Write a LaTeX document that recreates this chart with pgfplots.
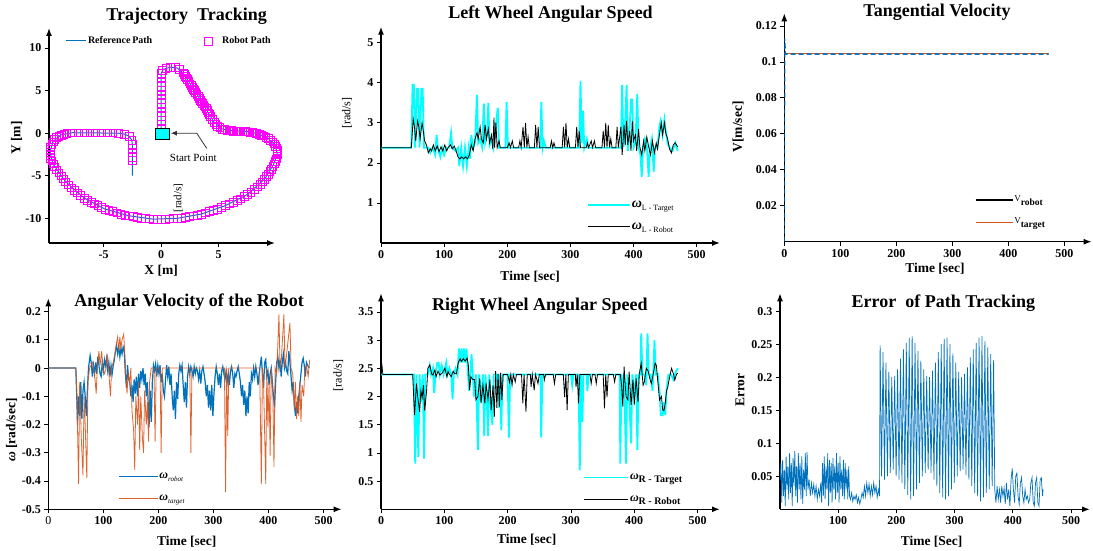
\documentclass[border=0pt]{standalone}
\usepackage{pgfplots}
\pgfplotsset{compat=1.18}
\usepackage{fontspec}
\setmainfont{Liberation Serif}
\usetikzlibrary{arrows.meta}
\definecolor{mblue}{RGB}{0,114,189}
\definecolor{morange}{RGB}{217,83,25}
\definecolor{mcyan}{RGB}{0,255,255}
\definecolor{mmag}{RGB}{255,0,255}
\pgfplotsset{
  panel/.style={
    scale only axis, anchor=south west,
    axis lines=left, enlargelimits=false,
    axis line style={line width=1.4pt, -{Latex[length=8pt,width=6pt]}},
    tick align=outside, major tick length=4pt,
    tick style={black, line width=0.7pt},
    tick label style={font=\fontsize{12}{14}\selectfont\bfseries},
    /pgf/number format/assume math mode=true,
    scaled ticks=false,
    yticklabel style={/pgf/number format/fixed, /pgf/number format/precision=2},
    label style={font=\fontsize{13.5}{15}\selectfont\bfseries},
    every axis title/.style={at={(0.5,1)}, anchor=center, font=\fontsize{18}{20}\selectfont\bfseries},
    legend cell align=left,
  },
  twoleg/.style={
    legend style={draw=none, fill=none, inner sep=0pt, row sep=7pt,
      nodes={inner sep=1pt, text height=9pt, text depth=4pt, anchor=west}},
    legend image code/.code={\draw[##1] (0pt,0pt) -- (#1,0pt);},
  },
}
\begin{document}
\begin{tikzpicture}
\useasboundingbox (0,0) rectangle (1093pt,-551pt);
% ---------------- Panel 1: Trajectory Tracking
\begin{axis}[panel, at={(49pt,-243pt)}, width=226pt, height=215pt,
  xmin=-9.74, xmax=9.9, ymin=-12.9, ymax=12.35, clip=false,
  xtick={-5,0,5}, ytick={-10,-5,0,5,10},
  title={Trajectory\ \ Tracking}, title style={at={(0.609,1.056)}},
  xlabel={X [m]}, xlabel style={at={(0.496,-0.13)}, anchor=center},
  ylabel={Y [m]}, ylabel style={at={(-0.143,0.488)}, anchor=center},
  legend columns=2,
  legend style={at={(0.07,0.94)}, anchor=west, draw=none, fill=none, inner sep=0pt,
    font=\fontsize{10}{12}\selectfont\bfseries,
    /tikz/every even column/.append style={column sep=50pt}},
  legend image code/.code={\draw[mark repeat=2,mark phase=2,#1] plot coordinates {(0pt,0pt) (10pt,0pt) (20pt,0pt)};},
]
\addplot[mblue, line width=1pt] coordinates {
(0,0)(0,3.5)(0,7)(0.2,7.5)(0.8,7.75)(1.4,7.65)(1.9,7.1)(3.1,4.6)(4.1,2.4)(4.6,1.3)(5.3,0.5)(6.1,0.3)(7.7,0.15)(8.5,-0.1)(9.3,-0.6)(9.95,-1.5)(10.1,-2.5)(9.8,-3.6)(9.0,-5.4)(7.5,-7.2)(5.6,-8.5)(3.5,-9.5)(1.4,-10.0)(-0.7,-10.1)(-2.8,-9.7)(-4.9,-8.9)(-6.7,-7.6)(-8.3,-5.7)(-9.4,-3.6)(-9.65,-2.2)(-9.4,-1.0)(-8.7,-0.2)(-7.7,0.05)(-3.7,0.0)(-3.2,-0.1)(-2.8,-0.35)(-2.55,-0.8)(-2.5,-1.3)(-2.5,-5.0)
};
\addlegendentry{Reference\,Path}
\addplot[only marks, mark=square, mark size=3.9pt, mmag, mark options={line width=0.5pt}] coordinates {
(0,0)(0,0.5)(0,1)(0,1.5)(0,2)(0,2.5)(0,3)(0,3.5)(0,4)(0,4.5)(0,5)(0,5.5)(0,6)(0,6.5)(0,7)
(0.1,7.4)(0.4,7.6)(0.8,7.7)(1.2,7.7)(1.6,7.5)(1.9,7.1)
(2.0,6.9)(2.1,6.7)(2.2,6.5)(2.3,6.3)(2.4,6.05)(2.5,5.8)(2.6,5.6)(2.7,5.4)(2.8,5.2)(2.9,5.0)(3.0,4.8)(3.1,4.6)(3.2,4.35)(3.3,4.1)(3.4,3.9)(3.5,3.7)(3.6,3.5)(3.7,3.3)(3.8,3.1)(3.9,2.9)(4.0,2.65)(4.1,2.4)(4.2,2.2)(4.3,2.0)(4.45,1.65)(4.6,1.3)(4.75,1.05)(4.9,0.8)(5.1,0.65)(5.3,0.5)(5.5,0.42)(5.7,0.35)(5.9,0.32)(6.1,0.3)
(6.3,0.27)(6.5,0.25)(6.7,0.22)(6.9,0.2)(7.1,0.2)(7.3,0.2)(7.5,0.17)(7.7,0.15)(7.9,0.1)(8.1,0.05)(8.3,-0.02)
(8.5,-0.1)(8.7,-0.2)(8.9,-0.3)(9.1,-0.45)(9.3,-0.6)(9.5,-0.8)(9.7,-1.0)(9.85,-1.25)(9.95,-1.5)(10.05,-1.75)(10.1,-2.0)(10.1,-2.25)(10.1,-2.5)(10.05,-2.75)(10.0,-3.0)(9.9,-3.3)(9.8,-3.6)(9.7,-3.9)(9.6,-4.2)(9.45,-4.5)(9.3,-4.8)(9.15,-5.1)(9.0,-5.4)
(8.8,-5.7)(8.6,-6.0)(8.35,-6.3)(8.1,-6.6)(7.8,-6.9)(7.5,-7.2)(7.2,-7.45)(6.9,-7.7)(6.6,-7.9)(6.3,-8.1)(5.95,-8.3)(5.6,-8.5)(5.25,-8.7)(4.9,-8.9)(4.55,-9.05)(4.2,-9.2)(3.85,-9.35)(3.5,-9.5)(3.15,-9.6)(2.8,-9.7)(2.45,-9.8)(2.1,-9.9)(1.75,-9.95)(1.4,-10.0)(1.05,-10.03)(0.7,-10.05)(0.35,-10.08)(0,-10.1)(-0.35,-10.1)(-0.7,-10.1)(-1.05,-10.05)(-1.4,-10.0)(-1.75,-9.95)(-2.1,-9.9)(-2.45,-9.8)(-2.8,-9.7)(-3.15,-9.6)(-3.5,-9.5)(-3.85,-9.35)(-4.2,-9.2)(-4.55,-9.05)(-4.9,-8.9)(-5.2,-8.7)(-5.5,-8.5)(-5.8,-8.3)(-6.1,-8.1)(-6.4,-7.85)(-6.7,-7.6)(-7.0,-7.3)(-7.3,-7.0)(-7.55,-6.7)(-7.8,-6.4)(-8.05,-6.05)(-8.3,-5.7)(-8.5,-5.35)(-8.7,-5.0)(-8.9,-4.65)(-9.1,-4.3)(-9.25,-3.95)(-9.4,-3.6)(-9.5,-3.25)(-9.6,-2.9)(-9.65,-2.55)(-9.65,-2.2)(-9.63,-1.9)(-9.6,-1.6)(-9.5,-1.3)(-9.4,-1.0)(-9.25,-0.75)(-9.1,-0.5)(-8.9,-0.35)(-8.7,-0.2)(-8.45,-0.1)(-8.2,0.0)
(-7.7,0.05)(-7.2,0.05)(-6.7,0.05)(-6.2,0.05)(-5.7,0.05)(-5.2,0.05)(-4.7,0.05)(-4.2,0.05)(-3.7,0.0)(-3.2,-0.1)(-2.8,-0.35)(-2.55,-0.8)(-2.5,-1.3)(-2.5,-1.8)(-2.5,-2.3)(-2.5,-2.8)(-2.5,-3.2)
};
\addlegendentry{\hspace{8pt}Robot Path}
\addplot[forget plot, only marks, mark=square*, mark size=5.5pt, mark options={xscale=1.35, fill=mcyan, draw=black, line width=0.6pt}] coordinates {(0.1,-0.1)};
\draw[black!80, line width=0.8pt, -{Latex[length=6pt,width=5pt]}] (axis cs:3.97,-1.8) -- (axis cs:3.1,0) -- (axis cs:0.85,0);
\node[font=\fontsize{11}{12}\selectfont] at (axis cs:2.8,-2.95) {Start Point};
\node[rotate=90, font=\fontsize{11}{12}\selectfont] at (axis cs:1.5,-7.65) {[rad/s]};
\end{axis}
% ---------------- Panel 2: Left Wheel
\begin{axis}[panel, twoleg=42pt, at={(381pt,-243pt)}, width=339pt, height=216.3pt,
  xmin=0, xmax=537, ymin=0, ymax=5.4,
  xtick={0,100,...,500}, ytick={1,2,3,4,5},
  title={Left Wheel Angular\ Speed}, title style={at={(0.5,1.059)}},
  xlabel={Time [sec]}, xlabel style={at={(0.44,-0.157)}, anchor=center},
  ylabel={[rad/s]}, ylabel style={at={(-0.1,0.6)}, anchor=center, font=\fontsize{12}{14}\selectfont},
  legend style={at={(0.607,0.213)}, anchor=north west},
]
\addplot[mcyan, line width=1.8pt] coordinates {
(0,2.38)(48,2.38)(50,3.95)(52,3.95)(54,2.38)(57,3.85)(59,3.85)(61,2.38)(64,3.85)(66,3.85)(68,2.38)(75,2.38)(78,2.25)(82,2.38)(86,2.2)(88,2.7)(90,2.38)(94,2.15)(97,2.38)(100,2.2)(103,2.38)(108,2.38)(111,2.75)(113,2.38)(118,2.3)(122,2.38)(124,1.92)(127,2.38)(130,1.92)(133,2.38)(136,1.92)(139,2.38)(141,2.1)(143,2.7)(146,2.38)(149,2.5)(152,3.7)(154,2.5)(157,2.6)(160,2.4)(163,3.48)(165,2.5)(168,2.7)(170,3.5)(172,2.45)(175,2.6)(178,2.38)(185,3.38)(187,2.38)(197,2.38)(199,3.52)(201,2.38)(252,2.38)(254,3.52)(256,2.38)(258,2.55)(261,2.38)(314,2.38)(316,4.05)(318,2.5)(320,3.3)(322,2.38)(326,2.6)(328,2.38)(380,2.38)(382,3.95)(384,2.4)(386,2.6)(389,3.95)(391,2.3)(393,2.6)(396,3.58)(398,3.58)(400,2.38)(403,2.5)(406,3.72)(408,2.38)(411,2.2)(413,1.65)(415,2.38)(418,2.6)(421,2.45)(424,1.65)(426,2.38)(429,2.6)(432,1.78)(434,2.38)(438,2.38)(441,2.9)(443,3.05)(446,2.7)(449,3.08)(451,2.8)(454,2.5)(457,2.38)(462,2.3)(466,2.5)(470,2.3)
};
\addlegendentry{{\fontsize{14}{14}\selectfont\bfseries\itshape ω}\raisebox{-3pt}{\fontsize{8}{8}\selectfont L - Target}}
\addplot[black, line width=0.8pt] coordinates {
(0,2.38)(48,2.38)(51,3.1)(53,2.9)(55,2.55)(58,3.05)(60,2.9)(62,2.6)(65,3.0)(67,2.8)(69,2.55)(72,2.45)(75,2.25)(78,2.35)(80,2.3)(83,2.45)(86,2.3)(89,2.42)(92,2.28)(95,2.4)(98,2.3)(101,2.45)(104,2.3)(107,2.4)(110,2.45)(113,2.35)(116,2.42)(119,2.3)(122,2.15)(125,2.1)(128,2.15)(131,2.1)(134,2.15)(137,2.1)(140,2.2)(143,2.45)(146,2.3)(149,2.6)(152,2.75)(154,2.6)(157,2.9)(159,2.6)(162,2.5)(165,2.95)(167,2.6)(170,2.85)(172,2.5)(175,2.7)(177,2.35)(179,3.13)(180,2.38)(182,3.0)(184,2.38)(187,2.55)(189,2.38)(200,2.38)(203,2.5)(205,2.38)(208,2.55)(210,2.38)(218,2.38)(220,2.55)(222,2.38)(225,2.9)(227,2.38)(229,3.0)(231,2.38)(233,2.65)(235,2.38)(243,2.38)(245,2.95)(247,2.38)(249,2.9)(251,2.38)(268,2.38)(270,2.55)(272,2.38)(274,2.5)(276,2.38)(287,2.38)(289,2.9)(291,2.38)(293,3.0)(295,2.38)(297,2.6)(299,2.38)(308,2.38)(310,2.9)(312,2.38)(314,2.8)(316,2.38)(325,2.38)(327,2.5)(329,2.38)(333,2.55)(335,2.38)(338,2.55)(340,2.38)(350,2.38)(352,2.8)(354,2.38)(356,3.0)(358,2.38)(360,2.95)(362,2.38)(364,2.6)(366,2.38)(372,2.38)(374,2.9)(376,2.38)(380,2.9)(382,2.2)(385,2.95)(387,2.45)(389,3.05)(391,2.45)(394,2.8)(396,2.3)(398,3.05)(400,2.55)(403,2.7)(405,2.3)(408,2.85)(410,2.4)(413,2.2)(416,2.55)(418,2.3)(421,2.65)(424,2.4)(427,2.2)(430,2.55)(433,2.25)(436,2.5)(438,2.35)(441,2.7)(444,3.0)(446,2.7)(449,3.0)(451,2.75)(454,2.6)(457,2.35)(460,2.25)(463,2.45)(466,2.5)(470,2.4)
};
\addlegendentry{{\fontsize{14}{14}\selectfont\bfseries\itshape ω}\raisebox{-3pt}{\fontsize{8}{8}\selectfont L - Robot}}
\end{axis}
% ---------------- Panel 3: Tangential Velocity
\begin{axis}[panel, twoleg=37pt, at={(784.3pt,-241.7pt)}, width=307.4pt, height=228.4pt,
  xmin=0, xmax=549, ymin=0, ymax=0.127,
  xtick={0,100,...,500}, ytick={0.02,0.04,0.06,0.08,0.1,0.12},
  title={Tangential\ Velocity}, title style={at={(0.497,1.003)}},
  xlabel={Time [sec]}, xlabel style={at={(0.49,-0.12)}, anchor=center},
  ylabel={V[m/sec]}, ylabel style={at={(-0.15,0.503)}, anchor=center},
  legend style={at={(0.62,0.216)}, anchor=north west},
]
\addlegendimage{black, line width=1.2pt}
\addlegendentry{\raisebox{1pt}{\fontsize{9}{9}\selectfont V}\raisebox{-3pt}{\fontsize{9.5}{9.5}\selectfont\bfseries robot}}
\addlegendimage{morange, line width=1pt}
\addlegendentry{\raisebox{1pt}{\fontsize{9}{9}\selectfont V}\raisebox{-3pt}{\fontsize{9.5}{9.5}\selectfont\bfseries target}}
\addplot[forget plot, morange, line width=1.3pt] coordinates {(0,0.1045)(472,0.1045)};
\addplot[forget plot, mblue, line width=1.3pt, dash pattern=on 5pt off 3pt] coordinates {(0,0)(0.8,0.113)(2,0.1043)(472,0.1043)};
\end{axis}
% ---------------- Panel 4: Angular Velocity
\begin{axis}[panel, twoleg=39pt, at={(48.3pt,-509.3pt)}, width=293.4pt, height=211pt,
  xmin=0, xmax=533, ymin=-0.5, ymax=0.247,
  xtick={0,100,...,500}, xticklabels={\mdseries 0,100,200,300,400,500},
  ytick={-0.5,-0.4,-0.3,-0.2,-0.1,0,0.1,0.2},
  title={Angular Velocity of the Robot}, title style={at={(0.48,0.984)}},
  xlabel={Time [sec]}, xlabel style={at={(0.472,-0.154)}, anchor=center},
  ylabel={{\itshape ω} [rad/sec]}, ylabel style={at={(-0.125,0.376)}, anchor=center},
  legend style={at={(0.2376,0.192)}, anchor=north west},
]
\addplot[mblue, line width=1.2pt] coordinates {
(0,0)(50,0)(52,-0.12)(53,-0.2)(55,-0.1)(57,-0.17)(59,-0.05)(61,-0.18)(63,-0.08)(65,-0.05)(67,-0.1)(69,-0.17)(71,-0.08)(73,0)(76,0.045)(78,0.02)(80,-0.03)(82,0.01)(84,-0.02)(86,0.02)(88,-0.02)(90,0.04)(92,0.01)(94,-0.02)(96,-0.03)(98,0.02)(100,-0.01)(102,0.03)(104,0.01)(106,0.035)(108,-0.01)(110,0.02)(112,-0.03)(114,0.01)(116,-0.02)(118,0.01)(120,0.03)(122,0.06)(124,0.08)(126,0.05)(128,0.075)(130,0.04)(132,0.07)(134,0.05)(136,0.075)(138,0.06)(140,-0.02)(142,-0.07)(144,0.01)(146,-0.04)(148,-0.05)(150,-0.1)(152,-0.06)(154,-0.12)(156,-0.04)(158,-0.09)(160,-0.03)(162,-0.1)(164,-0.02)(166,-0.07)(168,-0.01)(170,-0.04)(172,0)(174,-0.06)(176,-0.02)(178,-0.1)(180,-0.05)(182,-0.15)(183,-0.21)(185,-0.08)(187,-0.19)(189,-0.05)(191,0.01)(193,-0.01)(195,0.015)(197,-0.03)(199,0.01)(201,-0.02)(203,0.01)(205,-0.05)(207,-0.02)(209,-0.08)(211,-0.1)(213,-0.04)(215,0.01)(217,-0.03)(219,0.005)(221,-0.06)(223,-0.02)(225,-0.1)(227,-0.15)(229,-0.08)(231,-0.18)(233,-0.05)(235,-0.11)(237,-0.02)(239,0.01)(241,-0.01)(243,0.01)(245,-0.06)(247,-0.12)(249,-0.05)(251,-0.14)(253,-0.03)(255,0.005)(257,-0.02)(259,0.005)(261,-0.01)(263,-0.03)(265,0.005)(267,-0.02)(269,0)(271,-0.01)(273,-0.04)(275,-0.01)(277,-0.055)(279,-0.01)(281,0.005)(283,-0.02)(285,-0.05)(287,-0.1)(289,-0.06)(291,-0.14)(293,-0.08)(295,-0.15)(297,-0.06)(299,-0.17)(301,-0.09)(303,-0.03)(305,0.005)(307,-0.02)(309,-0.06)(311,-0.02)(313,-0.07)(315,-0.01)(317,0.005)(319,-0.02)(321,-0.04)(323,-0.01)(325,-0.05)(327,-0.02)(329,-0.06)(331,-0.01)(333,0.005)(335,-0.02)(337,-0.07)(339,-0.02)(341,-0.03)(343,-0.01)(345,0.005)(347,-0.02)(349,-0.05)(351,-0.1)(353,-0.06)(355,-0.13)(357,-0.08)(359,-0.17)(361,-0.1)(363,-0.16)(365,-0.05)(367,-0.1)(369,-0.02)(371,-0.04)(373,0)(375,-0.03)(377,0.005)(379,-0.02)(381,-0.06)(383,-0.02)(385,0.01)(387,0.04)(389,-0.02)(391,-0.07)(393,0.02)(395,0.03)(397,-0.03)(399,-0.01)(401,-0.06)(403,-0.02)(405,0)(407,-0.05)(409,-0.1)(411,-0.14)(413,-0.05)(415,0.02)(417,0.04)(419,0)(421,0.03)(423,-0.03)(425,0.02)(427,0.05)(429,0)(431,0.02)(433,-0.01)(435,-0.02)(437,0.06)(439,0.02)(441,-0.03)(443,-0.08)(445,-0.05)(447,-0.13)(449,-0.17)(451,-0.12)(453,-0.16)(455,-0.1)(457,-0.06)(459,-0.02)(461,0.02)(463,0.035)(465,0.01)(467,-0.03)(469,0.02)(471,0.01)(474,0.0)
};
\addlegendentry{{\fontsize{12}{12}\selectfont\bfseries\itshape ω}\raisebox{-2.5pt}{\fontsize{7}{7}\selectfont\itshape robot}}
\addplot[morange, line width=0.8pt, opacity=0.9] coordinates {
(0,0)(50,0)(52,-0.1)(55,-0.41)(57,-0.05)(60,-0.25)(63,-0.38)(65,-0.1)(67,-0.2)(70,-0.39)(72,-0.05)(75,0)(80,0.02)(84,-0.02)(87,-0.09)(89,0)(92,0.06)(94,0.01)(97,0.06)(99,0)(102,-0.02)(105,0)(107,0.05)(109,0.01)(113,-0.1)(115,0)(118,0.02)(121,0.05)(124,0.09)(126,0.11)(128,0.06)(130,0.11)(132,0.07)(134,0.1)(137,0.12)(139,0.05)(141,-0.03)(143,-0.09)(145,-0.02)(148,-0.05)(150,0)(152,-0.15)(155,-0.22)(157,-0.36)(159,-0.1)(162,-0.2)(164,-0.05)(166,-0.29)(168,-0.1)(171,-0.25)(173,-0.3)(175,-0.08)(178,-0.2)(180,-0.12)(182,-0.26)(184,-0.05)(187,0)(192,0)(194,-0.26)(196,0)(203,0)(205,-0.3)(207,0)(257,0)(259,-0.3)(261,0)(320,0)(322,-0.44)(324,0)(326,-0.24)(328,0)(384,0)(387,-0.41)(389,0)(391,-0.05)(395,-0.41)(397,0)(399,-0.21)(401,-0.05)(403,-0.31)(405,0)(408,-0.1)(410,-0.35)(412,0)(415,-0.02)(419,0.19)(421,0)(423,0.02)(428,0.19)(430,0)(433,0.05)(439,0.16)(441,0)(444,-0.02)(447,-0.15)(449,-0.05)(451,-0.18)(453,-0.1)(455,-0.17)(457,-0.05)(459,-0.19)(461,-0.06)(464,-0.1)(466,0)(469,0.01)(472,-0.03)(475,0.03)
};
\addlegendentry{{\fontsize{12}{12}\selectfont\bfseries\itshape ω}\raisebox{-2.5pt}{\fontsize{7}{7}\selectfont\itshape target}}
\end{axis}
% ---------------- Panel 5: Right Wheel
\begin{axis}[panel, twoleg=44pt, at={(381pt,-509.3pt)}, width=339pt, height=216pt,
  xmin=0, xmax=535.5, ymin=0, ymax=3.83,
  xtick={0,100,...,500}, ytick={0.5,1,1.5,2,2.5,3,3.5},
  title={Right Wheel Angular\ Speed}, title style={at={(0.469,0.938)}},
  xlabel={Time [sec]}, xlabel style={at={(0.43,-0.142)}, anchor=center},
  ylabel={[rad/s]}, ylabel style={at={(-0.126,0.62)}, anchor=center, font=\fontsize{12}{14}\selectfont},
  legend style={at={(0.596,0.183)}, anchor=north west},
]
\addplot[mcyan, line width=1.8pt] coordinates {
(0,2.39)(52,2.39)(54,0.81)(56,2.39)(59,0.93)(61,2.39)(63,1.9)(66,2.39)(68,0.9)(70,2.39)(74,2.39)(77,2.55)(79,2.39)(82,2.5)(84,2.06)(86,2.39)(89,2.6)(91,2.6)(93,2.39)(96,2.55)(99,2.39)(103,2.6)(105,2.39)(108,2.5)(111,2.39)(113,1.95)(115,2.39)(118,2.5)(121,2.39)(123,2.85)(125,2.6)(127,2.85)(129,2.6)(131,2.85)(133,2.6)(135,2.85)(137,2.5)(139,2.1)(141,2.39)(143,2.75)(145,2.39)(147,2.0)(150,2.39)(153,1.05)(155,2.39)(158,1.9)(161,2.39)(163,1.3)(165,2.39)(167,2.0)(169,1.3)(171,2.39)(174,1.7)(176,1.5)(178,2.39)(183,2.39)(187,1.8)(188,2.39)(190,1.4)(192,2.39)(200,2.39)(202,1.27)(204,2.39)(252,2.39)(253,1.27)(255,2.39)(300,2.39)(302,2.2)(304,2.39)(312,2.39)(314,0.69)(316,2.39)(318,1.55)(320,2.39)(325,2.39)(326,2.1)(328,2.39)(377,2.39)(378,0.81)(380,2.39)(382,2.0)(384,2.39)(387,0.81)(389,2.39)(392,2.0)(395,1.17)(397,2.39)(400,2.0)(403,2.39)(405,1.05)(407,2.39)(410,2.39)(411,3.12)(413,2.39)(416,2.39)(419,2.2)(421,3.12)(423,2.39)(426,2.39)(429,2.1)(432,3.0)(434,2.39)(437,2.4)(440,2.1)(442,1.67)(445,1.67)(447,1.9)(449,1.67)(451,2.1)(454,2.39)(458,2.39)(462,2.3)(466,2.45)(469,2.5)
};
\addlegendentry{{\fontsize{12}{12}\selectfont\bfseries\itshape ω}\raisebox{-3pt}{\fontsize{10}{10}\selectfont\bfseries R - Target}}
\addplot[black, line width=0.8pt] coordinates {
(0,2.39)(1,2.6)(3,2.39)(50,2.39)(53,1.67)(56,2.23)(58,2.0)(61,1.73)(63,2.1)(65,1.98)(67,2.2)(69,1.75)(72,2.1)(74,2.5)(77,2.56)(80,2.4)(82,2.38)(85,2.47)(87,2.35)(90,2.45)(93,2.38)(97,2.42)(101,2.5)(104,2.35)(106,2.44)(109,2.38)(111,2.35)(114,2.45)(116,2.41)(119,2.4)(122,2.6)(125,2.67)(127,2.62)(130,2.67)(133,2.63)(136,2.68)(138,2.55)(140,2.12)(142,2.35)(145,2.3)(148,2.3)(150,1.94)(153,2.0)(156,2.32)(158,1.88)(161,2.2)(164,1.88)(166,2.23)(169,1.95)(172,2.3)(174,1.76)(177,2.2)(179,1.64)(181,2.45)(183,1.8)(185,2.4)(187,1.82)(189,2.42)(191,1.94)(193,2.39)(200,2.39)(203,2.25)(205,2.39)(207,2.2)(209,2.39)(212,2.26)(214,2.39)(222,2.39)(224,1.88)(226,2.39)(229,1.73)(231,2.39)(236,2.39)(237,2.17)(239,2.39)(242,2.11)(244,2.39)(248,2.23)(250,2.39)(257,2.39)(258,2.29)(260,2.39)(272,2.39)(274,2.23)(276,2.39)(288,2.39)(290,1.99)(292,2.39)(294,1.76)(296,2.39)(307,2.39)(308,2.17)(310,2.39)(312,1.88)(314,2.39)(330,2.39)(332,2.23)(334,2.39)(338,2.39)(340,2.23)(342,2.39)(351,2.39)(353,1.79)(355,2.39)(357,1.99)(359,2.39)(367,2.39)(369,2.26)(371,2.39)(378,2.39)(380,2.2)(382,1.82)(384,2.53)(387,2.0)(390,1.94)(392,2.44)(395,1.85)(398,2.3)(400,1.85)(403,2.32)(406,1.9)(408,2.4)(411,2.59)(414,2.2)(416,2.26)(419,2.5)(422,2.45)(425,2.3)(427,2.23)(430,2.4)(433,2.59)(435,2.55)(437,2.3)(440,1.94)(443,2.0)(445,1.76)(447,1.75)(449,1.88)(451,2.1)(453,2.17)(456,2.35)(459,2.5)(462,2.4)(464,2.29)(467,2.4)(469,2.41)
};
\addlegendentry{{\fontsize{12}{12}\selectfont\bfseries\itshape ω}\raisebox{-3pt}{\fontsize{10}{10}\selectfont\bfseries R - Robot}}
\end{axis}
% ---------------- Panel 6: Error
\begin{axis}[panel, at={(780pt,-509.3pt)}, width=310pt, height=216pt,
  xmin=0, xmax=532.6, ymin=0, ymax=0.327,
  xtick={100,200,...,500}, ytick={0.05,0.1,0.15,0.2,0.25,0.3},
  title={Error\ \ of Path Tracking}, title style={at={(0.527,0.954)}},
  xlabel={Time [Sec]}, xlabel style={at={(0.489,-0.15)}, anchor=center},
  ylabel={Error}, ylabel style={at={(-0.129,0.552)}, anchor=center},
]
\addplot[mblue, line width=0.7pt] coordinates {
(0,0.045)(1.5,0.07)(3,0.01)(4.5,0.075)(6,0.02)(7.5,0.06)(9,0.005)(10.5,0.08)(12,0.03)(13.5,0.065)(15,0.015)(16.5,0.085)(18,0.025)(19.5,0.07)(21,0.005)(22.5,0.078)(24,0.035)(25.5,0.088)(27,0.02)(28.5,0.065)(30,0.01)(31.5,0.085)(33,0.03)(34.5,0.07)(36,0.015)(37.5,0.08)(39,0.008)(40.5,0.06)(42,0.03)(43.5,0.085)(45,0.02)(46.5,0.087)(48,0.03)(50,0.045)(52,0.02)(54,0.04)(56,0.025)(58,0.038)(60,0.02)(62,0.035)(64,0.015)(66,0.03)(68,0.02)(70,0.04)(71.5,0.01)(73,0.07)(74.5,0.02)(76,0.08)(77.5,0.015)(79,0.065)(80.5,0.03)(82,0.085)(83.5,0.005)(85,0.075)(86.5,0.025)(88,0.07)(89.5,0.01)(91,0.078)(92.5,0.03)(94,0.065)(95.5,0.015)(97,0.085)(98.5,0.025)(100,0.07)(101.5,0.01)(103,0.08)(104.5,0.03)(106,0.06)(107.5,0.02)(109,0.075)(110.5,0.015)(112,0.07)(113.5,0.03)(115,0.06)(116.5,0.015)(118,0.065)(119.5,0.02)(121,0.015)(123,0.025)(125,0.012)(127,0.02)(129,0.015)(131,0.022)(133,0.01)(135,0.018)(137,0.008)(139,0.015)(141,0.025)(143,0.018)(145,0.035)(147,0.02)(149,0.04)(151,0.025)(153,0.038)(155,0.02)(157,0.035)(159,0.022)(161,0.04)(163,0.025)(165,0.035)(167,0.018)(169,0.03)(171,0.02)
(172,0.248)(174.5,0.05)(177,0.238)(179.5,0.045)(182,0.222)(184.5,0.05)(187,0.208)(189.5,0.055)(192,0.2)(194.5,0.06)(197,0.202)(199.5,0.05)(202,0.212)(204.5,0.045)(207,0.228)(209.5,0.04)(212,0.242)(214.5,0.03)(217,0.252)(219.5,0.022)(222,0.26)(224.5,0.015)(227,0.262)(229.5,0.02)(232,0.252)(234.5,0.03)(237,0.24)(239.5,0.04)(242,0.225)(244.5,0.05)(247,0.212)(249.5,0.055)(252,0.202)(254.5,0.06)(257,0.2)(259.5,0.055)(262,0.21)(264.5,0.045)(267,0.222)(269.5,0.035)(272,0.238)(274.5,0.025)(277,0.25)(279.5,0.018)(282,0.258)(284.5,0.015)(287,0.26)(289.5,0.02)(292,0.25)(294.5,0.03)(297,0.236)(299.5,0.04)(302,0.222)(304.5,0.05)(307,0.208)(309.5,0.058)(312,0.2)(314.5,0.06)(317,0.205)(319.5,0.052)(322,0.215)(324.5,0.045)(327,0.23)(329.5,0.035)(332,0.242)(334.5,0.025)(337,0.252)(339.5,0.02)(342,0.26)(344.5,0.012)(347,0.262)(349.5,0.018)(352,0.255)(354.5,0.025)(357,0.245)(359.5,0.03)(362,0.235)(364.5,0.035)(367,0.226)(369,0.03)
(371,0.01)(373,0.035)(375,0.015)(377,0.03)(379,0.01)(381,0.035)(383,0.02)(385,0.032)(387,0.008)(389,0.04)(391,0.015)(393,0.03)(395,0.005)(397,0.045)(399,0.062)(401,0.03)(403,0.01)(405,0.05)(407,0.055)(409,0.02)(411,0.008)(413,0.04)(415,0.048)(417,0.02)(419,0.01)(421,0.03)(423,0.015)(425,0.02)(427,0.01)(429,0.015)(431,0.04)(433,0.048)(435,0.01)(437,0.005)(439,0.04)(441,0.048)(443,0.01)(445,0.005)(447,0.045)(449,0.048)(451,0.02)(452,0.03)
};
\end{axis}
\end{tikzpicture}
\end{document}
